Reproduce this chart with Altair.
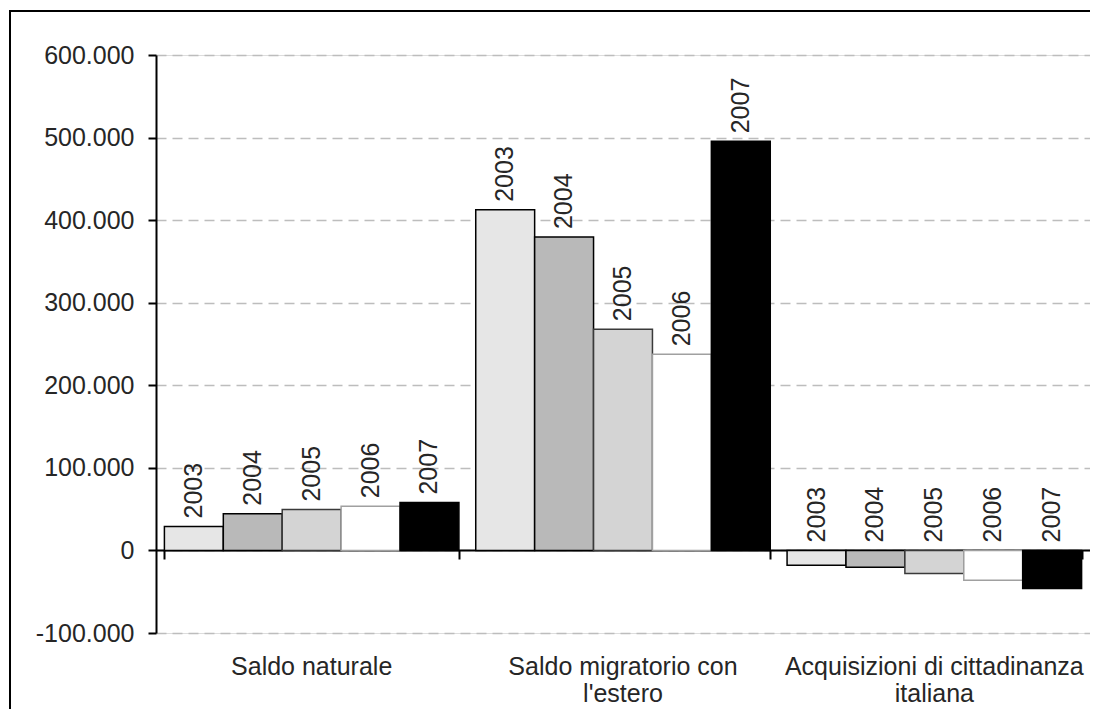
import altair as alt
import pandas as pd

categories = ["Saldo naturale", "Saldo migratorio con\nl'estero", "Acquisizioni di cittadinanza\nitaliana"]
years = ["2003", "2004", "2005", "2006", "2007"]
saldo_naturale = [29000, 44500, 49500, 53500, 58000]
saldo_migratorio = [412500, 379500, 268000, 237500, 495500]
acquisizioni = [-18000, -20500, -28000, -36000, -46000]
y_ticks = [-100000, 0, 100000, 200000, 300000, 400000, 500000, 600000]

fills = ["#e6e6e6", "#b9b9b9", "#d4d4d4", "#ffffff", "#000000"]
strokes = ["#000000", "#000000", "#3a3a3a", "#a0a0a0", "#000000"]

rows = []
for cat, vals in zip(categories, [saldo_naturale, saldo_migratorio, acquisizioni]):
    for yr, v in zip(years, vals):
        rows.append({"categoria": cat, "anno": yr, "valore": v, "pos": max(v, 0)})
df = pd.DataFrame(rows)

FONT = "Liberation Sans"
TXT = "#262626"

x_scale = alt.Scale(domain=categories, paddingInner=0.054, paddingOuter=0.027)
y_scale = alt.Scale(domain=[-100000, 600000], nice=False, zero=False)
y_axis = alt.Axis(
    values=y_ticks, title=None,
    labelExpr="replace(replace(format(datum.value, ','), ',', '.'), '\u2212', '-')",
    labelFontSize=25, labelFont=FONT, labelColor=TXT, labelPadding=14,
    domainColor="#000000", domainWidth=2, tickColor="#000000", tickWidth=2, tickSize=8,
    grid=True, gridColor="#bdbdbd", gridDash=[10, 6], gridWidth=1.5,
)

base = alt.Chart(df)

bars = base.mark_bar(strokeWidth=1.5).encode(
    x=alt.X("categoria:N", sort=categories, scale=x_scale,
            axis=alt.Axis(title=None, orient="bottom", domain=False, ticks=False, grid=False,
                          labelAngle=0, labelLimit=500,
                          labelExpr="split(datum.label, '\\n')", labelFontSize=25,
                          labelLineHeight=27, labelPadding=21, labelColor=TXT, labelFont=FONT)),
    xOffset=alt.XOffset("anno:N", sort=years, scale=alt.Scale(paddingInner=0, paddingOuter=0)),
    y=alt.Y("valore:Q", scale=y_scale, axis=y_axis),
    y2=alt.datum(0),
    fill=alt.Fill("anno:N", scale=alt.Scale(domain=years, range=fills), legend=None),
    stroke=alt.Stroke("anno:N", scale=alt.Scale(domain=years, range=strokes), legend=None),
)

labels = base.mark_text(angle=270, align="left", baseline="middle", dx=8,
                        fontSize=25, font=FONT, color=TXT).encode(
    x=alt.X("categoria:N", sort=categories, scale=x_scale,
            axis=alt.Axis(title=None, orient="bottom", offset=-83, labels=False, grid=False,
                          domain=True, domainColor="#000000", domainWidth=2,
                          ticks=True, tickBand="extent", tickSize=9,
                          tickColor="#000000", tickWidth=2)),
    xOffset=alt.XOffset("anno:N", sort=years, scale=alt.Scale(paddingInner=0, paddingOuter=0)),
    y=alt.Y("pos:Q", scale=y_scale, axis=y_axis),
    text="anno:N",
)

frame_data = alt.Data(values=[{"k": 1}])
frame_left = alt.Chart(frame_data).mark_rule(stroke="#000000", strokeWidth=2).encode(
    x=alt.value(-146), y=alt.value(-44), y2=alt.value(1000)
)
frame_top = alt.Chart(frame_data).mark_rule(stroke="#000000", strokeWidth=2).encode(
    x=alt.value(-147), x2=alt.value(1200), y=alt.value(-44)
)

chart = alt.layer(frame_left, frame_top, bars, labels).resolve_axis(x="independent").properties(
    width=934, height=578,
    autosize=alt.AutoSizeParams(type="none"),
    padding={"left": 148, "top": 47, "right": 0, "bottom": 76},
).configure_view(strokeWidth=0).configure(font=FONT)

chart.save("out.html", embed_options={"renderer": "svg", "actions": False})
